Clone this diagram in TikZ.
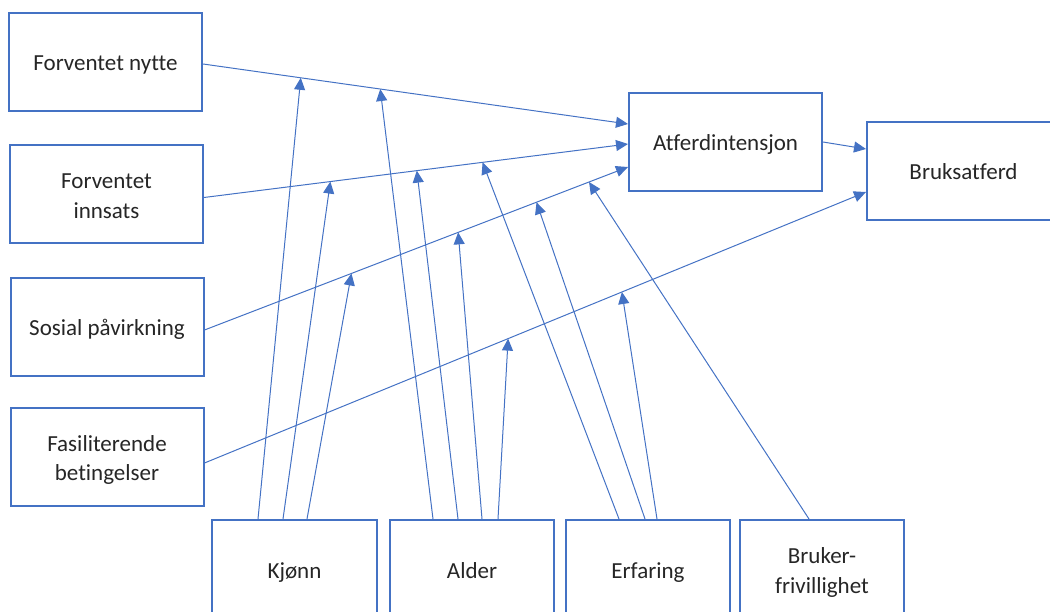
\documentclass[tikz,border=0pt]{standalone}
\usepackage{fontspec}
\setmainfont{Carlito}[Ligatures=NoCommon]
\usetikzlibrary{arrows.meta,calc}
\definecolor{oblue}{HTML}{4472C4}
\definecolor{txt}{HTML}{262626}
\newcommand{\boxtext}[1]{\raisebox{-3pt}[\height][\depth]{\begin{tabular}{@{}c@{}}#1\end{tabular}}}
\begin{document}
\begin{tikzpicture}[x=1pt,y=-1pt,
  box/.style={draw=oblue,line width=2pt,fill=white,minimum width=193pt,minimum height=98pt,
    inner sep=0pt,align=center,text=txt,font=\fontsize{23}{30}\selectfont},
  sbox/.style={box,minimum width=164pt},
  link/.style={draw=oblue,line width=1pt,-{Triangle[length=12pt,width=11pt]}}]
\useasboundingbox (0,0) rectangle (1050,612);
\clip (0,0) rectangle (1050,612);
% nodes
\node[box] (fn) at (105.5,62) {\boxtext{Forventet nytte}};
\node[box] (fi) at (106.5,194.5) {\boxtext{Forventet\\innsats}};
\node[box] (sp) at (107,327) {\boxtext{Sosial påvirkning}};
\node[box] (fb) at (107,457) {\boxtext{Fasiliterende\\betingelser}};
\node[box] (ai) at (725.5,142) {\boxtext{Atferdintensjon}};
\node[box] (ba) at (963.5,171) {\boxtext{Bruksatferd}};
\node[sbox,minimum width=165pt] (kj) at (294.5,569) {\boxtext{Kjønn}};
\node[sbox] (al) at (472,569) {\boxtext{Alder}};
\node[sbox] (er) at (648,569) {\boxtext{Erfaring}};
\node[sbox] (bf) at (822,569) {\boxtext{Bruker-\\frivillighet}};
% endpoints of main links
\coordinate (fnS) at ($(fn.east)+(0,2)$);
\coordinate (fiS) at ($(fi.east)+(0,3)$);
\coordinate (spS) at ($(sp.east)+(0,3)$);
\coordinate (fbS) at ($(fb.east)+(0,6)$);
\coordinate (ai1) at ($(ai.west)+(0,-18)$);
\coordinate (ai2) at ($(ai.west)+(0,2)$);
\coordinate (ai3) at ($(ai.west)+(0,25)$);
\coordinate (ba1) at ($(ba.west)+(0,-22)$);
\coordinate (ba2) at ($(ba.west)+(0,21)$);
% main links
\draw[link] (fnS) -- (ai1);
\draw[link] (fiS) -- (ai2);
\draw[link] (spS) -- (ai3);
\draw[link] (fbS) -- (ba2);
\draw[link] (ai.east) -- (ba1);
% moderator targets on the links
\coordinate (tk1) at ($(fnS)!0.23!(ai1)$);
\coordinate (ta1) at ($(fnS)!0.417!(ai1)$);
\coordinate (tk2) at ($(fiS)!0.298!(ai2)$);
\coordinate (ta2) at ($(fiS)!0.502!(ai2)$);
\coordinate (te1) at ($(fiS)!0.657!(ai2)$);
\coordinate (tk3) at ($(spS)!0.347!(ai3)$);
\coordinate (ta3) at ($(spS)!0.599!(ai3)$);
\coordinate (te2) at ($(spS)!0.784!(ai3)$);
\coordinate (tb1) at ($(spS)!0.908!(ai3)$);
\coordinate (ta4) at ($(fbS)!0.459!(ba2)$);
\coordinate (te3) at ($(fbS)!0.631!(ba2)$);
% moderator links
\draw[link] ($(kj.north)+(-36.5,0)$) -- (tk1);
\draw[link] ($(kj.north)+(-11.5,0)$) -- (tk2);
\draw[link] ($(kj.north)+(12.5,0)$) -- (tk3);
\draw[link] ($(al.north)+(-39,0)$) -- (ta1);
\draw[link] ($(al.north)+(-14,0)$) -- (ta2);
\draw[link] ($(al.north)+(10,0)$) -- (ta3);
\draw[link] ($(al.north)+(26,0)$) -- (ta4);
\draw[link] ($(er.north)+(-29,0)$) -- (te1);
\draw[link] ($(er.north)+(-3,0)$) -- (te2);
\draw[link] ($(er.north)+(9,0)$) -- (te3);
\draw[link] ($(bf.north)+(-13,0)$) -- (tb1);
\end{tikzpicture}
\end{document}
